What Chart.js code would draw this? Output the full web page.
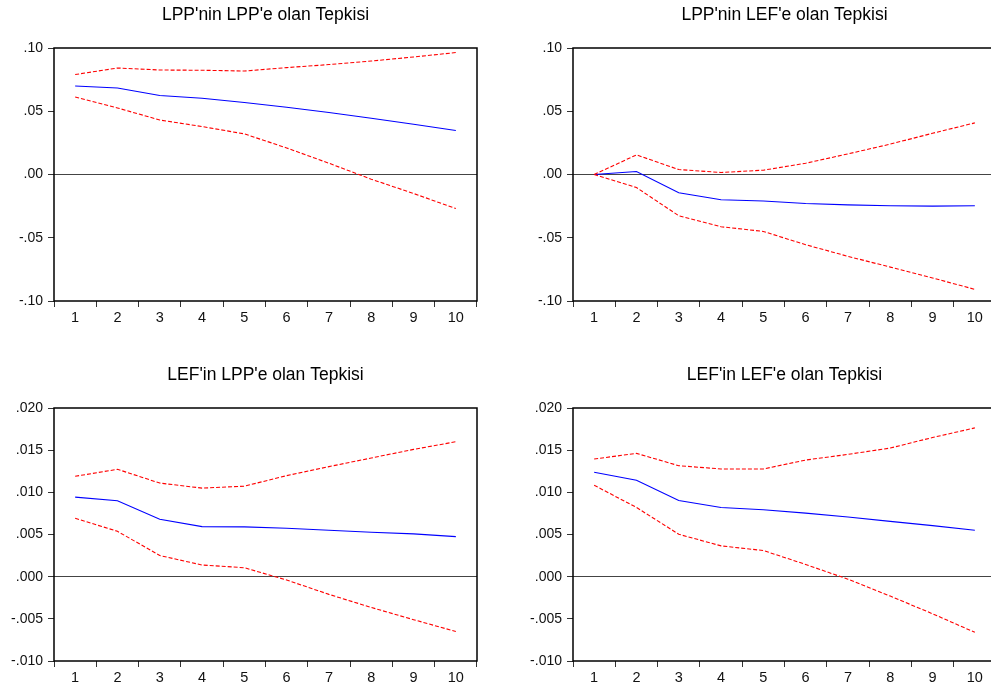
<!DOCTYPE html>
<html>
<head>
<meta charset="utf-8">
<script src="https://cdn.jsdelivr.net/npm/chart.js@4.4.1/dist/chart.umd.min.js"></script>
<style>
  html, body { margin: 0; padding: 0; background: #fff; overflow: hidden; width: 991px; height: 688px; }
  .panel { position: absolute; width: 500px; height: 335px; }
</style>
</head>
<body>
<div class="panel" style="left:0;top:0"><canvas id="c1" width="500" height="335"></canvas></div>
<div class="panel" style="left:519px;top:0"><canvas id="c2" width="500" height="335"></canvas></div>
<div class="panel" style="left:0;top:360px"><canvas id="c3" width="500" height="335"></canvas></div>
<div class="panel" style="left:519px;top:360px"><canvas id="c4" width="500" height="335"></canvas></div>
<script>
const periods = ['1', '2', '3', '4', '5', '6', '7', '8', '9', '10'];

// LPP'nin LPP'e olan Tepkisi
const lppLppResp = [0.0700, 0.0684, 0.0624, 0.0603, 0.0569, 0.0532, 0.0490, 0.0445, 0.0397, 0.0348];
const lppLppUpper = [0.0790, 0.0842, 0.0826, 0.0824, 0.0818, 0.0845, 0.0869, 0.0897, 0.0929, 0.0964];
const lppLppLower = [0.0613, 0.0526, 0.0431, 0.0379, 0.0321, 0.0210, 0.0089, -0.0037, -0.0150, -0.0269];

// LPP'nin LEF'e olan Tepkisi
const lppLefResp = [0.0000, 0.0024, -0.0145, -0.0200, -0.0210, -0.0229, -0.0240, -0.0247, -0.0250, -0.0247];
const lppLefUpper = [0.0000, 0.0155, 0.0039, 0.0016, 0.0034, 0.0089, 0.0163, 0.0240, 0.0326, 0.0408];
const lppLefLower = [0.0000, -0.0103, -0.0326, -0.0413, -0.0450, -0.0555, -0.0647, -0.0732, -0.0818, -0.0908];

// LEF'in LPP'e olan Tepkisi
const lefLppResp = [0.00943, 0.00900, 0.00680, 0.00593, 0.00590, 0.00574, 0.00550, 0.00527, 0.00507, 0.00475];
const lefLppUpper = [0.01190, 0.01273, 0.01110, 0.01050, 0.01073, 0.01198, 0.01305, 0.01407, 0.01509, 0.01600];
const lefLppLower = [0.00692, 0.00538, 0.00251, 0.00138, 0.00106, -0.00040, -0.00210, -0.00365, -0.00510, -0.00650];

// LEF'in LEF'e olan Tepkisi
const lefLefResp = [0.01238, 0.01143, 0.00904, 0.00821, 0.00794, 0.00754, 0.00707, 0.00656, 0.00605, 0.00550];
const lefLefUpper = [0.01395, 0.01462, 0.01316, 0.01277, 0.01277, 0.01383, 0.01450, 0.01525, 0.01650, 0.01764];
const lefLefLower = [0.01084, 0.00821, 0.00503, 0.00365, 0.00310, 0.00145, -0.00030, -0.00230, -0.00440, -0.00660];

const topTicks = { min: -0.10, max: 0.10, step: 0.05, digits: 2 };
const bottomTicks = { min: -0.010, max: 0.020, step: 0.005, digits: 3 };

const fontFamily = '"Liberation Sans", Arial, Helvetica, sans-serif';

// draws the closed box around the plot area
const frameBox = {
  id: 'frameBox',
  afterDraw(chart) {
    const { ctx, chartArea: a } = chart;
    ctx.save();
    ctx.strokeStyle = '#000';
    ctx.lineWidth = 1.5;
    ctx.strokeRect(a.left, a.top, a.right - a.left, a.bottom - a.top);
    ctx.restore();
  }
};

function makePanel(id, title, resp, upper, lower, range) {
  const band = { borderColor: '#ff0000', borderWidth: 1.1, borderDash: [4, 2], pointRadius: 0, tension: 0, fill: false };
  new Chart(document.getElementById(id), {
    type: 'line',
    data: {
      labels: periods,
      datasets: [
        Object.assign({ data: upper }, band),
        Object.assign({ data: lower }, band),
        { data: resp, borderColor: '#0000ff', borderWidth: 1.1, pointRadius: 0, tension: 0, fill: false }
      ]
    },
    options: {
      responsive: false,
      animation: false,
      devicePixelRatio: 1,
      layout: { padding: { left: 0, right: 23, top: 0, bottom: 0 } },
      plugins: {
        legend: { display: false },
        tooltip: { enabled: false },
        title: {
          display: true,
          text: title,
          fullSize: false,
          color: '#000',
          font: { family: fontFamily, size: 17.5, weight: 'normal', lineHeight: 1.2 },
          padding: { top: 5, bottom: 22 }
        }
      },
      scales: {
        x: {
          type: 'category',
          offset: true,
          afterFit(scale) { scale.height = 34; },
          border: { display: false },
          grid: { offset: true, drawOnChartArea: false, drawTicks: true, tickLength: 6, tickColor: '#333', lineWidth: 1 },
          ticks: { color: '#111', font: { family: fontFamily, size: 14.5 }, padding: 2, maxRotation: 0, autoSkip: false }
        },
        y: {
          min: range.min,
          max: range.max,
          afterFit(scale) { scale.width = 54; },
          border: { display: false },
          grid: {
            drawOnChartArea: true,
            drawTicks: true,
            tickLength: 6,
            tickColor: '#333',
            lineWidth: 1,
            color: ctx => (ctx.tick && Math.abs(ctx.tick.value) < 1e-9 ? '#444' : 'rgba(0,0,0,0)')
          },
          ticks: {
            stepSize: range.step,
            color: '#111',
            padding: 5,
            font: { family: fontFamily, size: 14 },
            callback: v => {
              const s = Number(v).toFixed(range.digits);
              return s.replace('0.', '.');
            }
          }
        }
      }
    },
    plugins: [frameBox]
  });
}

makePanel('c1', "LPP'nin LPP'e olan Tepkisi", lppLppResp, lppLppUpper, lppLppLower, topTicks);
makePanel('c2', "LPP'nin LEF'e olan Tepkisi", lppLefResp, lppLefUpper, lppLefLower, topTicks);
makePanel('c3', "LEF'in LPP'e olan Tepkisi", lefLppResp, lefLppUpper, lefLppLower, bottomTicks);
makePanel('c4', "LEF'in LEF'e olan Tepkisi", lefLefResp, lefLefUpper, lefLefLower, bottomTicks);
</script>
</body>
</html>
